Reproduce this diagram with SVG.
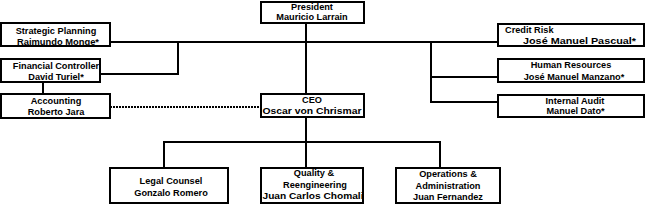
<svg xmlns="http://www.w3.org/2000/svg" width="646" height="205" viewBox="0 0 646 205">
<style>
.box{fill:#fff;stroke:#000;stroke-width:2}
.t{font-family:"Liberation Sans",Arial,sans-serif;font-weight:bold;font-size:9.2px;fill:#000;text-anchor:middle}
.l{text-anchor:start}
.r{text-anchor:end}
.c{fill:none;stroke:#000;stroke-width:2}
.d{fill:none;stroke:#000;stroke-width:2;stroke-dasharray:2 1}
</style>
<rect width="646" height="205" fill="#fff"/>
<g id="connectors">
<path class="c" d="M306 23V94"/>
<path class="c" d="M110 42H498"/>
<path class="c" d="M100 74H178V42"/>
<path class="c" d="M43 82V94"/>
<path class="c" d="M431 42V102H498M431 77H498"/>
<path class="c" d="M306 117V168"/>
<path class="c" d="M164 168V142H440V168"/>
<path class="d" d="M110 107H261"/>
</g>
<g id="president">
<rect class="box" x="261" y="2" width="103" height="21"/>
<text class="t" x="312" y="10">President</text>
<text class="t" x="312" y="20">Mauricio Larrain</text>
</g>
<g id="strategic">
<rect class="box" x="1" y="23" width="109" height="23"/>
<text class="t" x="56" y="33.5">Strategic Planning</text>
<text class="t" x="58" y="44.5" textLength="82" lengthAdjust="spacingAndGlyphs">Raimundo Monge*</text>
</g>
<g id="financial">
<rect class="box" x="1" y="59" width="99" height="23"/>
<text class="t" x="56" y="68.5">Financial Controller</text>
<text class="t" x="56" y="80">David Turiel*</text>
</g>
<g id="accounting">
<rect class="box" x="1" y="94" width="109" height="24"/>
<text class="t" x="56" y="103.5">Accounting</text>
<text class="t" x="56" y="114.5">Roberto Jara</text>
</g>
<g id="ceo">
<rect class="box" x="261" y="94" width="103" height="23"/>
<text class="t" x="312" y="103">CEO</text>
<text class="t" x="312" y="114" textLength="99" lengthAdjust="spacingAndGlyphs">Oscar von Chrismar</text>
</g>
<g id="credit">
<rect class="box" x="498" y="24" width="146" height="22"/>
<text class="t l" x="505" y="33">Credit Risk</text>
<text class="t r" x="636" y="44" textLength="113" lengthAdjust="spacingAndGlyphs">José Manuel Pascual*</text>
</g>
<g id="hr">
<rect class="box" x="498" y="59" width="146" height="23"/>
<text class="t" x="571" y="67.5">Human Resources</text>
<text class="t" x="574" y="79.5">José Manuel Manzano*</text>
</g>
<g id="audit">
<rect class="box" x="498" y="95" width="146" height="22"/>
<text class="t" x="575" y="103.5">Internal Audit</text>
<text class="t" x="575.5" y="114">Manuel Dato*</text>
</g>
<g id="legal">
<rect class="box" x="110" y="168" width="118" height="35"/>
<text class="t" x="171" y="184">Legal Counsel</text>
<text class="t" x="171" y="195.5">Gonzalo Romero</text>
</g>
<g id="quality">
<rect class="box" x="261" y="168" width="102" height="35"/>
<text class="t" x="314" y="176">Quality &amp;</text>
<text class="t" x="315" y="187.5">Reengineering</text>
<text class="t" x="313" y="199" textLength="101" lengthAdjust="spacingAndGlyphs">Juan Carlos Chomali</text>
</g>
<g id="operations">
<rect class="box" x="396" y="168" width="104" height="35"/>
<text class="t" x="448" y="177">Operations &amp;</text>
<text class="t" x="448" y="188.5">Administration</text>
<text class="t" x="448" y="200">Juan Fernandez</text>
</g>
</svg>
